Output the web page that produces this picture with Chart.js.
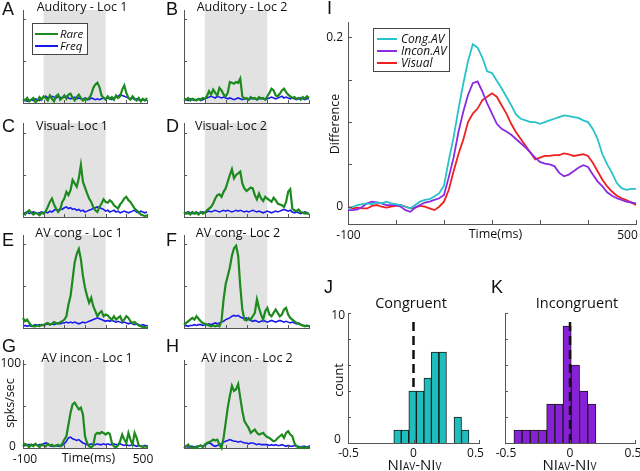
<!DOCTYPE html>
<html><head><meta charset="utf-8">
<script src="https://cdn.jsdelivr.net/npm/chart.js@4.4.1/dist/chart.umd.min.js"></script>
<style>
html,body{margin:0;padding:0;background:#fff;}
body{position:relative;width:640px;height:471px;overflow:hidden;}
canvas{position:absolute;}
</style></head><body>
<script>
// ---------- DATA ----------
const TIME_MS = [-100,-90,-80,-70,-60,-50,-40,-30,-20,-10,0,10,20,30,40,50,60,70,80,90,100,110,120,130,140,150,160,170,180,190,200,210,220,230,240,250,260,270,280,290,300,310,320,330,340,350,360,370,380,390,400,410,420,430,440,450,460,470,480,490,500];

const A_RARE = [5,3,6,2,4,6,1,3,7,4, 8,6,3,9,5,2,8,10,4,6, 9,5,10,11,6,3,7,10,6,3, 5,4,6,10,18,22,24,19,9,6, 4,8,5,7,4,9,6,8,16,21, 12,6,4,8,5,3,6,2,5,3, 6];
const A_FREQ = [3,4,2,3,4,3,5,4,3,5, 7,8,6,7,8,7,6,8,7,6, 7,8,6,5,6,7,5,6,5,4, 6,5,4,6,5,4,5,4,5,6, 5,6,5,4,6,7,8,10,9,8, 7,6,5,6,4,5,4,3,4,3, 4];
const B_RARE = [5,4,6,3,5,4,3,5,4,6, 5,8,14,10,16,12,9,18,15,10, 8,12,25,24,23,25,24,29,8,5, 6,4,7,5,6,4,7,5,6,4, 8,12,17,15,9,8,11,15,17,13, 10,8,6,7,5,6,4,7,5,8, 6];
const B_FREQ = [3,4,3,5,4,3,4,5,3,4, 5,6,7,8,7,6,8,7,6,7, 6,5,6,5,4,5,6,5,4,5, 5,4,5,6,5,4,5,6,5,4, 5,6,7,6,5,6,7,8,6,7, 6,5,6,5,4,5,6,5,4,5, 5];
const C_RARE = [5,3,6,8,5,3,5,4,2,5, 4,7,12,18,22,15,10,6,9,18, 22,30,26,32,44,40,36,46,62,42, 35,28,22,18,12,8,6,12,16,21, 18,17,20,18,14,12,10,15,18,22, 24,20,18,14,10,8,6,3,2,1, 2];
const C_FREQ = [4,5,6,4,5,6,5,4,5,6, 5,6,5,7,6,8,9,8,10,9, 11,12,10,11,9,10,8,9,7,8, 6,7,8,9,10,11,12,11,10,9, 7,8,6,7,8,6,7,5,6,7, 6,5,6,7,8,6,5,7,6,5, 6];
const D_RARE = [6,4,5,3,6,4,5,3,6,4, 5,8,10,12,16,22,26,27,24,30, 34,42,50,57,46,50,52,54,40,34, 31,33,35,34,26,21,28,22,19,24, 22,20,18,23,20,16,15,14,12,18, 30,33,10,8,7,9,6,5,4,5, 3];
const D_FREQ = [4,5,6,5,4,5,6,4,5,6, 5,6,7,6,7,8,7,6,7,8, 7,8,7,6,7,8,7,8,7,6, 7,6,7,8,7,6,7,6,5,6, 7,6,5,6,7,6,7,8,9,8, 7,8,6,5,6,5,4,5,6,5, 4];
const E_RARE = [12,8,10,6,3,2,2,3,2,4, 3,5,6,4,5,7,6,5,7,8, 10,14,28,38,58,78,88,94,82,62, 48,38,30,36,26,20,14,18,20,14, 16,15,12,10,14,10,12,14,8,10, 14,12,8,6,7,5,3,2,1,1, 0];
const E_FREQ = [2,3,2,3,2,3,4,3,4,3, 4,4,5,4,5,4,5,6,5,6, 6,7,6,7,6,7,6,5,6,7, 6,7,8,9,10,11,12,11,10,9, 8,9,8,9,8,7,8,7,6,7, 6,5,6,5,4,5,4,3,4,3, 3];
const F_RARE = [4,6,8,10,12,10,14,11,8,6, 5,4,3,2,3,2,3,2,8,34, 52,62,72,86,95,98,86,50,22,10, 9,12,10,14,18,34,24,16,10,20, 24,16,14,18,22,18,14,16,22,24, 16,12,10,8,6,5,4,3,2,3, 2];
const F_FREQ = [2,3,2,3,3,4,3,4,4,3, 4,4,5,4,5,6,5,6,7,8, 10,11,12,14,15,14,15,13,12,11, 12,10,9,8,9,8,7,8,9,8, 7,8,9,8,7,8,9,8,7,8, 7,6,7,6,5,6,4,3,3,2, 2];
const G_RARE = [2,5,3,1,4,2,5,3,1,4, 3,2,5,3,4,2,3,4,2,5, 10,14,28,42,52,54,50,46,48,40, 14,6,2,1,3,16,18,17,19,18, 16,18,17,6,2,1,3,8,16,10, 6,18,10,4,18,12,3,2,1,2, 1];
const G_FREQ = [2,3,4,4,3,4,4,3,4,4, 5,6,5,3,2,2,3,2,2,3, 5,8,12,13,11,10,9,10,8,6, 5,4,4,5,4,4,5,4,4,5, 4,5,4,4,5,4,4,5,4,3, 4,3,3,4,3,2,3,2,2,3, 2];
const H_RARE = [0,2,4,1,0,1,0,2,3,1, 4,6,7,8,10,9,10,4,0,12, 30,48,62,74,68,70,76,60,44,32, 28,24,18,20,22,18,16,17,18,15, 13,12,10,8,9,12,14,16,12,18, 20,16,14,6,2,1,0,1,0,1, 0];
const H_FREQ = [2,2,1,2,2,1,2,2,3,2, 3,5,6,5,3,2,3,4,5,7, 8,9,10,9,8,8,7,8,7,6, 6,5,6,6,5,4,5,4,4,4, 4,3,4,3,4,3,3,4,3,2, 3,2,2,3,2,2,1,2,2,1, 2];

const I_CONG = [-0.002,0.000,0.002,0.003,0.004,0.003,0.005,0.004,0.006,0.004, 0.003,0.002,0.000,-0.002,0.002,0.006,0.008,0.009,0.012,0.016, 0.025,0.055,0.082,0.115,0.145,0.172,0.192,0.188,0.176,0.160, 0.158,0.149,0.140,0.130,0.120,0.109,0.104,0.102,0.100,0.100, 0.098,0.100,0.102,0.104,0.106,0.108,0.107,0.106,0.105,0.102, 0.100,0.092,0.080,0.062,0.050,0.040,0.028,0.022,0.020,0.021, 0.021];
const I_INCON = [-0.004,-0.004,-0.003,0.000,0.004,0.006,0.005,0.004,0.002,0.002, 0.002,0.000,-0.004,-0.006,-0.001,0.002,0.005,0.006,0.008,0.010, 0.014,0.035,0.058,0.088,0.112,0.132,0.146,0.148,0.136,0.122, 0.110,0.098,0.092,0.089,0.085,0.080,0.075,0.070,0.064,0.058, 0.053,0.051,0.050,0.048,0.040,0.036,0.038,0.042,0.046,0.049, 0.047,0.038,0.030,0.024,0.017,0.013,0.010,0.008,0.006,0.005, 0.004];
const I_VIS = [0.000,-0.002,-0.001,-0.002,-0.002,0.001,0.002,0.000,-0.001,0.000, 0.001,0.002,0.000,-0.002,-0.001,0.001,0.000,-0.002,-0.004,0.000, 0.006,0.020,0.042,0.062,0.079,0.100,0.110,0.116,0.126,0.130, 0.134,0.130,0.120,0.110,0.098,0.088,0.080,0.072,0.064,0.056, 0.058,0.060,0.060,0.061,0.061,0.063,0.062,0.060,0.061,0.062, 0.060,0.052,0.042,0.032,0.024,0.018,0.013,0.010,0.008,0.005, 0.002];

const J_BIN_CENTERS = [-0.122,-0.065,-0.007,0.050,0.108,0.165,0.223,0.280,0.338,0.395];
const J_COUNTS = [1,1,4,4,5,7,7,0,2,1];
const K_BIN_CENTERS = [-0.400,-0.337,-0.274,-0.211,-0.148,-0.085,-0.022,0.042,0.105,0.168];
const K_COUNTS = [1,1,1,1,3,3,9,6,4,3];

const TIME_TICKS = [-100,0,100,200,300,400,500];
const RATE_TICKS = [0,50,100];
const DIFF_TICKS = [0,0.05,0.1,0.15,0.2];
const NI_TICKS = [-0.5,0,0.5];
const COUNT_TICKS = [0,2,4,6,8,10];

// ---------- STYLE ----------
const SANS = "'Open Sans','DejaVu Sans',sans-serif";
const LET = "'Liberation Sans',Arial,sans-serif";
const AXIS = '#555555';
const GREEN = '#1d8a1d', BLUE = '#1a1aee', SHADE = '#e2e2e2';
const CYAN = '#27c3c8', PURPLE = '#8a2be2', RED = '#ee2020';

const decoPlugin = {
  id: 'deco',
  beforeDatasetsDraw(chart, args, o) {
    const {ctx, chartArea: a, scales: {x}} = chart;
    if (o.shade) {
      const x0 = x.getPixelForValue(o.shade[0]), x1 = x.getPixelForValue(o.shade[1]);
      ctx.save(); ctx.fillStyle = SHADE; ctx.fillRect(x0, a.top, x1 - x0, a.bottom - a.top); ctx.restore();
    }
  },
  afterDatasetsDraw(chart, args, o) {
    const {ctx, chartArea: a, scales: {x, y}} = chart;
    const [ox, oy] = o.off;
    ctx.save();
    ctx.strokeStyle = AXIS; ctx.lineWidth = 1;
    (o.xt || []).forEach(v => {
      const px = Math.round(x.getPixelForValue(v)) + 0.5;
      ctx.beginPath(); ctx.moveTo(px, a.bottom); ctx.lineTo(px, a.bottom - o.tl); ctx.stroke();
    });
    (o.yt || []).forEach(v => {
      const py = Math.round(y.getPixelForValue(v)) + 0.5;
      ctx.beginPath(); ctx.moveTo(a.left, py); ctx.lineTo(a.left + o.tl, py); ctx.stroke();
    });
    if (o.legend) {
      const L = o.legend;
      ctx.fillStyle = '#fff'; ctx.strokeStyle = '#444'; ctx.lineWidth = 1;
      ctx.fillRect(L.box[0] - ox, L.box[1] - oy, L.box[2], L.box[3]);
      ctx.strokeRect(L.box[0] - ox + 0.5, L.box[1] - oy + 0.5, L.box[2], L.box[3]);
      L.items.forEach(it => {
        ctx.strokeStyle = it.c; ctx.lineWidth = L.lw;
        ctx.beginPath(); ctx.moveTo(L.lx[0] - ox, it.y - oy); ctx.lineTo(L.lx[1] - ox, it.y - oy); ctx.stroke();
        ctx.fillStyle = '#111'; ctx.font = L.font; ctx.textAlign = 'left'; ctx.textBaseline = 'alphabetic';
        ctx.fillText(it.t, L.tx - ox, it.y - oy + L.dy);
      });
    }
    (o.texts || []).forEach(t => {
      ctx.save();
      ctx.fillStyle = t.c || '#111';
      ctx.textBaseline = t.b || 'alphabetic';
      const px = t.x - ox, py = t.y - oy;
      ctx.translate(px, py);
      if (t.r) ctx.rotate(t.r);
      if (t.parts) {
        let w = 0;
        t.parts.forEach(p => { ctx.font = p.f; w += ctx.measureText(p.t).width; });
        let cx = -w / 2;
        ctx.textAlign = 'left';
        t.parts.forEach(p => { ctx.font = p.f; ctx.fillText(p.t, cx, 0); cx += ctx.measureText(p.t).width; });
      } else {
        ctx.font = t.f; ctx.textAlign = t.a || 'center';
        ctx.fillText(t.t, 0, 0);
      }
      ctx.restore();
    });
    ctx.restore();
  }
};

function scaleOpt(min, max) {
  return {type: 'linear', min, max, offset: false,
    grid: {display: false, drawTicks: false}, ticks: {display: false},
    border: {display: true, color: AXIS, width: 1}};
}

function makeChart(rect, plot, cfg, deco) {
  const cv = document.createElement('canvas');
  cv.width = rect[2]; cv.height = rect[3];
  cv.style.left = rect[0] + 'px'; cv.style.top = rect[1] + 'px';
  cv.style.width = rect[2] + 'px'; cv.style.height = rect[3] + 'px';
  document.body.appendChild(cv);
  const yW = plot[0] - rect[0];
  const xH = (rect[1] + rect[3]) - (plot[1] + plot[3]);
  cfg.options.responsive = false;
  cfg.options.animation = false;
  cfg.options.devicePixelRatio = 1;
  cfg.options.layout = {padding: {left: 0, bottom: 0, top: plot[1] - rect[1], right: (rect[0] + rect[2]) - (plot[0] + plot[2])}};
  cfg.options.scales.x.afterFit = s => { s.height = xH; };
  cfg.options.scales.y.afterFit = s => { s.width = yW; };
  deco.off = [rect[0], rect[1]];
  cfg.options.plugins = Object.assign({legend: {display: false}, tooltip: {enabled: false}, deco}, cfg.options.plugins || {});
  cfg.plugins = [decoPlugin];
  return new Chart(cv, cfg);
}

const pts = (xs, ys) => xs.map((v, i) => ({x: v, y: ys[i]}));

// ---------- SMALL PANELS ----------
const COLS = [{cx: 0, cw: 162, px: 23, pw: 124, lx: 2}, {cx: 162, cw: 158, px: 184, pw: 125, lx: 166}];
const ROWS = [
  {cy: 0, ch: 112, py: 10, ph: 93, let: 15, tb: 11},
  {cy: 112, ch: 112, py: 123, ph: 94, let: 132, tb: 130},
  {cy: 224, ch: 112, py: 235, ph: 93, let: 246, tb: 237},
  {cy: 336, ch: 135, py: 360, ph: 88, let: 352, tb: 362}
];
const PX_PER_RATE = 0.84;
const SMALL = [
  {l: 'A', title: 'Auditory - Loc 1', tc: 82, r: 0, c: 0, rare: A_RARE, freq: A_FREQ},
  {l: 'B', title: 'Auditory - Loc 2', tc: 242, r: 0, c: 1, rare: B_RARE, freq: B_FREQ},
  {l: 'C', title: 'Visual- Loc 1', tc: 72, r: 1, c: 0, rare: C_RARE, freq: C_FREQ},
  {l: 'D', title: 'Visual- Loc 2', tc: 231, r: 1, c: 1, rare: D_RARE, freq: D_FREQ},
  {l: 'E', title: 'AV cong - Loc 1', tc: 79, r: 2, c: 0, rare: E_RARE, freq: E_FREQ},
  {l: 'F', title: 'AV cong- Loc 2', tc: 238, r: 2, c: 1, rare: F_RARE, freq: F_FREQ},
  {l: 'G', title: 'AV incon - Loc 1', tc: 87, r: 3, c: 0, rare: G_RARE, freq: G_FREQ},
  {l: 'H', title: 'AV incon - Loc 2', tc: 247, r: 3, c: 1, rare: H_RARE, freq: H_FREQ}
];

SMALL.forEach(p => {
  const C = COLS[p.c], R = ROWS[p.r];
  const texts = [
    {t: p.l, x: C.lx, y: R.let, f: '18px ' + LET, a: 'left'},
    {t: p.title, x: p.tc, y: R.tb, f: '12.5px ' + SANS}
  ];
  if (p.l === 'G') {
    texts.push({t: '100', x: 21, y: 363.5, f: '12px ' + SANS, a: 'right', b: 'middle'});
    texts.push({t: '0', x: 12.5, y: 447, f: '12px ' + SANS, a: 'center', b: 'middle'});
    texts.push({t: '-100', x: 25, y: 463, f: '12px ' + SANS});
    texts.push({t: '500', x: 143, y: 463, f: '12px ' + SANS});
    texts.push({t: 'Time(ms)', x: 88.5, y: 462, f: '12.5px ' + SANS});
    texts.push({t: 'spks/sec', x: 14, y: 403, f: '12.5px ' + SANS, r: -Math.PI / 2});
  }
  const deco = {shade: [0, 300], xt: TIME_TICKS, yt: RATE_TICKS, tl: 3, texts};
  if (p.l === 'A') {
    deco.legend = {box: [32, 23, 55, 31], lx: [35, 58], tx: 60, lw: 2, dy: 4, font: 'italic 11.5px ' + SANS,
      items: [{t: 'Rare', c: GREEN, y: 34}, {t: 'Freq', c: BLUE, y: 46}]};
  }
  makeChart([C.cx, R.cy, C.cw, R.ch], [C.px, R.py, C.pw, R.ph], {
    type: 'line',
    data: {datasets: [
      {label: 'Rare', data: pts(TIME_MS, p.rare), borderColor: GREEN, borderWidth: 2.2, pointRadius: 0, tension: 0, clip: false},
      {label: 'Freq', data: pts(TIME_MS, p.freq), borderColor: BLUE, borderWidth: 1.6, pointRadius: 0, tension: 0, clip: false}
    ]},
    options: {scales: {x: scaleOpt(-100, 500), y: scaleOpt(0, R.ph / PX_PER_RATE)}}
  }, deco);
});

// ---------- PANEL I ----------
makeChart([320, 0, 320, 250], [348, 22, 288, 202], {
  type: 'line',
  data: {datasets: [
    {label: 'Cong.AV', data: pts(TIME_MS, I_CONG), borderColor: CYAN, borderWidth: 1.8, pointRadius: 0, tension: 0, clip: false},
    {label: 'Incon.AV', data: pts(TIME_MS, I_INCON), borderColor: PURPLE, borderWidth: 1.8, pointRadius: 0, tension: 0, clip: false},
    {label: 'Visual', data: pts(TIME_MS, I_VIS), borderColor: RED, borderWidth: 1.8, pointRadius: 0, tension: 0, clip: false}
  ]},
  options: {scales: {x: scaleOpt(-100, 500), y: scaleOpt(-0.0204, 0.2183)}}
}, {
  xt: TIME_TICKS, yt: DIFF_TICKS, tl: 4,
  legend: {box: [373, 28, 76, 43], lx: [377, 397], tx: 401, lw: 2, dy: 4, font: 'italic 12px ' + SANS,
    items: [{t: 'Cong.AV', c: CYAN, y: 39}, {t: 'Incon.AV', c: PURPLE, y: 51}, {t: 'Visual', c: RED, y: 63}]},
  texts: [
    {t: 'I', x: 327, y: 14, f: '18px ' + LET, a: 'left'},
    {t: '0.2', x: 343, y: 38, f: '12px ' + SANS, a: 'right', b: 'middle'},
    {t: '0', x: 343, y: 207, f: '12px ' + SANS, a: 'right', b: 'middle'},
    {t: '-100', x: 348.5, y: 239, f: '12px ' + SANS},
    {t: '500', x: 627.5, y: 239, f: '12px ' + SANS},
    {t: 'Time(ms)', x: 495.5, y: 238, f: '12.5px ' + SANS},
    {t: 'Difference', x: 339, y: 124, f: '12.5px ' + SANS, r: -Math.PI / 2}
  ]
});

// ---------- PANELS J & K ----------
const NI_LABEL = [{t: 'NI', f: '15px ' + SANS}, {t: 'AV', f: '10px ' + SANS}, {t: '-NI', f: '15px ' + SANS}, {t: 'V', f: '10px ' + SANS}];

function histChart(rect, plot, centers, counts, fill, dashTop, dashOnTop, texts) {
  makeChart(rect, plot, {
    type: 'bar',
    data: {datasets: [
      {type: 'bar', data: pts(centers, counts), backgroundColor: fill, borderColor: '#1a1a1a', borderWidth: 1,
        barPercentage: 1, categoryPercentage: 1, order: dashOnTop ? 1 : 0},
      {type: 'line', data: [{x: 0, y: 0}, {x: 0, y: dashTop}], borderColor: '#111', borderWidth: 2.5,
        borderDash: [9, 5], pointRadius: 0, clip: false, order: dashOnTop ? 0 : 1}
    ]},
    options: {scales: {x: scaleOpt(-0.5, 0.5), y: scaleOpt(0, 10)}}
  }, {xt: NI_TICKS, yt: COUNT_TICKS, tl: 3, texts});
}

histChart([320, 262, 170, 209], [348, 313, 131, 130], J_BIN_CENTERS, J_COUNTS, '#1fbebe', 9.6, false, [
  {t: 'J', x: 324, y: 293, f: '18px ' + LET, a: 'left'},
  {t: 'Congruent', x: 411, y: 308, f: '14.5px ' + SANS},
  {t: '10', x: 345, y: 316, f: '12px ' + SANS, a: 'right', b: 'middle'},
  {t: '0', x: 337.5, y: 440, f: '12px ' + SANS, a: 'center', b: 'middle'},
  {t: '-0.5', x: 348.5, y: 457, f: '12px ' + SANS},
  {t: '0', x: 413.5, y: 457, f: '12px ' + SANS},
  {t: '0.5', x: 475.5, y: 457, f: '12px ' + SANS},
  {parts: NI_LABEL, x: 414.5, y: 469.5},
  {t: 'count', x: 343, y: 380, f: '12.5px ' + SANS, r: -Math.PI / 2}
]);

histChart([490, 262, 150, 209], [505, 313, 130, 130], K_BIN_CENTERS, K_COUNTS, '#8820d8', 9.5, true, [
  {t: 'K', x: 491, y: 293, f: '18px ' + LET, a: 'left'},
  {t: 'Incongruent', x: 577, y: 308, f: '14.5px ' + SANS},
  {t: '-0.5', x: 506, y: 457, f: '12px ' + SANS},
  {t: '0', x: 570, y: 457, f: '12px ' + SANS},
  {t: '0.5', x: 633, y: 457, f: '12px ' + SANS},
  {parts: NI_LABEL, x: 569.5, y: 469.5}
]);
</script>
</body></html>
